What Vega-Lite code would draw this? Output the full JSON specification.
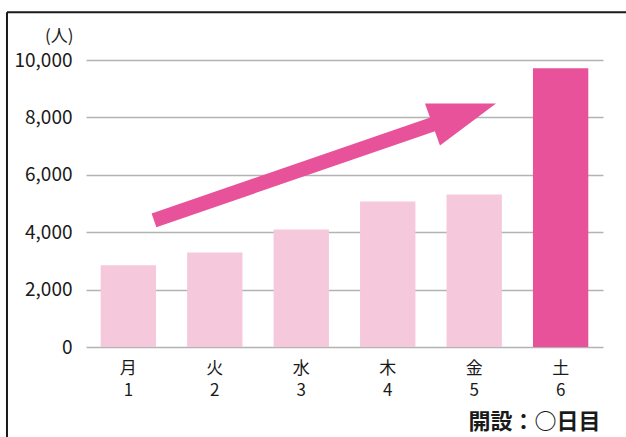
{
  "$schema": "https://vega.github.io/schema/vega-lite/v6.json",
  "width": 517,
  "height": 287,
  "autosize": "none",
  "padding": {"left": 86, "top": 60, "right": 23, "bottom": 90},
  "background": "white",
  "config": {
    "view": {"stroke": null},
    "font": "Noto Sans CJK JP"
  },
  "datasets": {
    "visits": [
      {"label": "月|1", "visitors": 2845, "group": "weekday"},
      {"label": "火|2", "visitors": 3297, "group": "weekday"},
      {"label": "水|3", "visitors": 4098, "group": "weekday"},
      {"label": "木|4", "visitors": 5073, "group": "weekday"},
      {"label": "金|5", "visitors": 5317, "group": "weekday"},
      {"label": "土|6", "visitors": 9714, "group": "saturday"}
    ],
    "shaft": [
      {"ax": 0.789, "ay": 4412},
      {"ax": 4.166, "ay": 7904}
    ],
    "head": [
      {"hx": 3.934, "hy": 8485, "hy2": 8485},
      {"hx": 4.108, "hy": 8485, "hy2": 7023},
      {"hx": 4.758, "hy": 8485, "hy2": 8485}
    ]
  },
  "layer": [
    {
      "data": {"name": "visits"},
      "mark": {"type": "bar"},
      "encoding": {
        "x": {
          "field": "label",
          "type": "nominal",
          "sort": null,
          "scale": {"paddingInner": 0.36, "paddingOuter": 0.17},
          "axis": {
            "title": "開設：○日目",
            "titleAnchor": "end",
            "titleFontSize": 22,
            "titleFontWeight": "bold",
            "titleColor": "#1a1a1a",
            "titleX": 514,
            "titleY": 74,
            "titleAlign": "right",
            "titleBaseline": "middle",
            "labelExpr": "split(datum.label, '|')",
            "labelAngle": 0,
            "labelFontSize": 17,
            "labelLineHeight": 22,
            "labelColor": "#1a1a1a",
            "labelPadding": 13,
            "ticks": false,
            "domain": false,
            "grid": false
          }
        },
        "y": {
          "field": "visitors",
          "type": "quantitative",
          "scale": {"domain": [0, 10000], "nice": false},
          "axis": {
            "title": "(人)",
            "titleAngle": 0,
            "titleAlign": "right",
            "titleBaseline": "middle",
            "titleX": -13,
            "titleY": -24,
            "titleFontSize": 17,
            "titleFontWeight": "normal",
            "titleColor": "#1a1a1a",
            "values": [0, 2000, 4000, 6000, 8000, 10000],
            "format": ",.0f",
            "labelFontSize": 19,
            "labelColor": "#1a1a1a",
            "labelPadding": 14,
            "ticks": false,
            "domain": false,
            "grid": true,
            "gridColor": "#b3b3b3",
            "gridWidth": 1.6
          }
        },
        "color": {
          "field": "group",
          "type": "nominal",
          "scale": {"domain": ["weekday", "saturday"], "range": ["#f5c8dc", "#e8529a"]},
          "legend": null
        }
      }
    },
    {
      "data": {"name": "shaft"},
      "mark": {"type": "line", "strokeWidth": 14.5, "strokeCap": "butt", "color": "#e8529a"},
      "encoding": {
        "x": {"field": "ax", "type": "quantitative", "scale": {"domain": [0, 6], "nice": false, "zero": false}, "axis": null},
        "y": {"field": "ay", "type": "quantitative"}
      }
    },
    {
      "data": {"name": "head"},
      "mark": {"type": "area", "color": "#e8529a", "opacity": 1},
      "encoding": {
        "x": {"field": "hx", "type": "quantitative", "scale": {"domain": [0, 6], "nice": false, "zero": false}, "axis": null},
        "y": {"field": "hy", "type": "quantitative"},
        "y2": {"field": "hy2"}
      }
    },
    {
      "data": {"values": [{}]},
      "mark": {"type": "rule", "color": "#1a1a1a", "strokeWidth": 2},
      "encoding": {
        "x": {"datum": -0.917, "type": "quantitative", "scale": {"domain": [0, 6], "nice": false, "zero": false}, "axis": null},
        "y": {"datum": 11664, "type": "quantitative"},
        "y2": {"datum": -5000}
      }
    },
    {
      "data": {"values": [{}]},
      "mark": {"type": "rule", "color": "#1a1a1a", "strokeWidth": 2},
      "encoding": {
        "x": {"datum": -0.917, "type": "quantitative", "scale": {"domain": [0, 6], "nice": false, "zero": false}, "axis": null},
        "x2": {"datum": 9},
        "y": {"datum": 11664, "type": "quantitative"}
      }
    }
  ],
  "resolve": {"scale": {"x": "independent", "color": "independent"}}
}
